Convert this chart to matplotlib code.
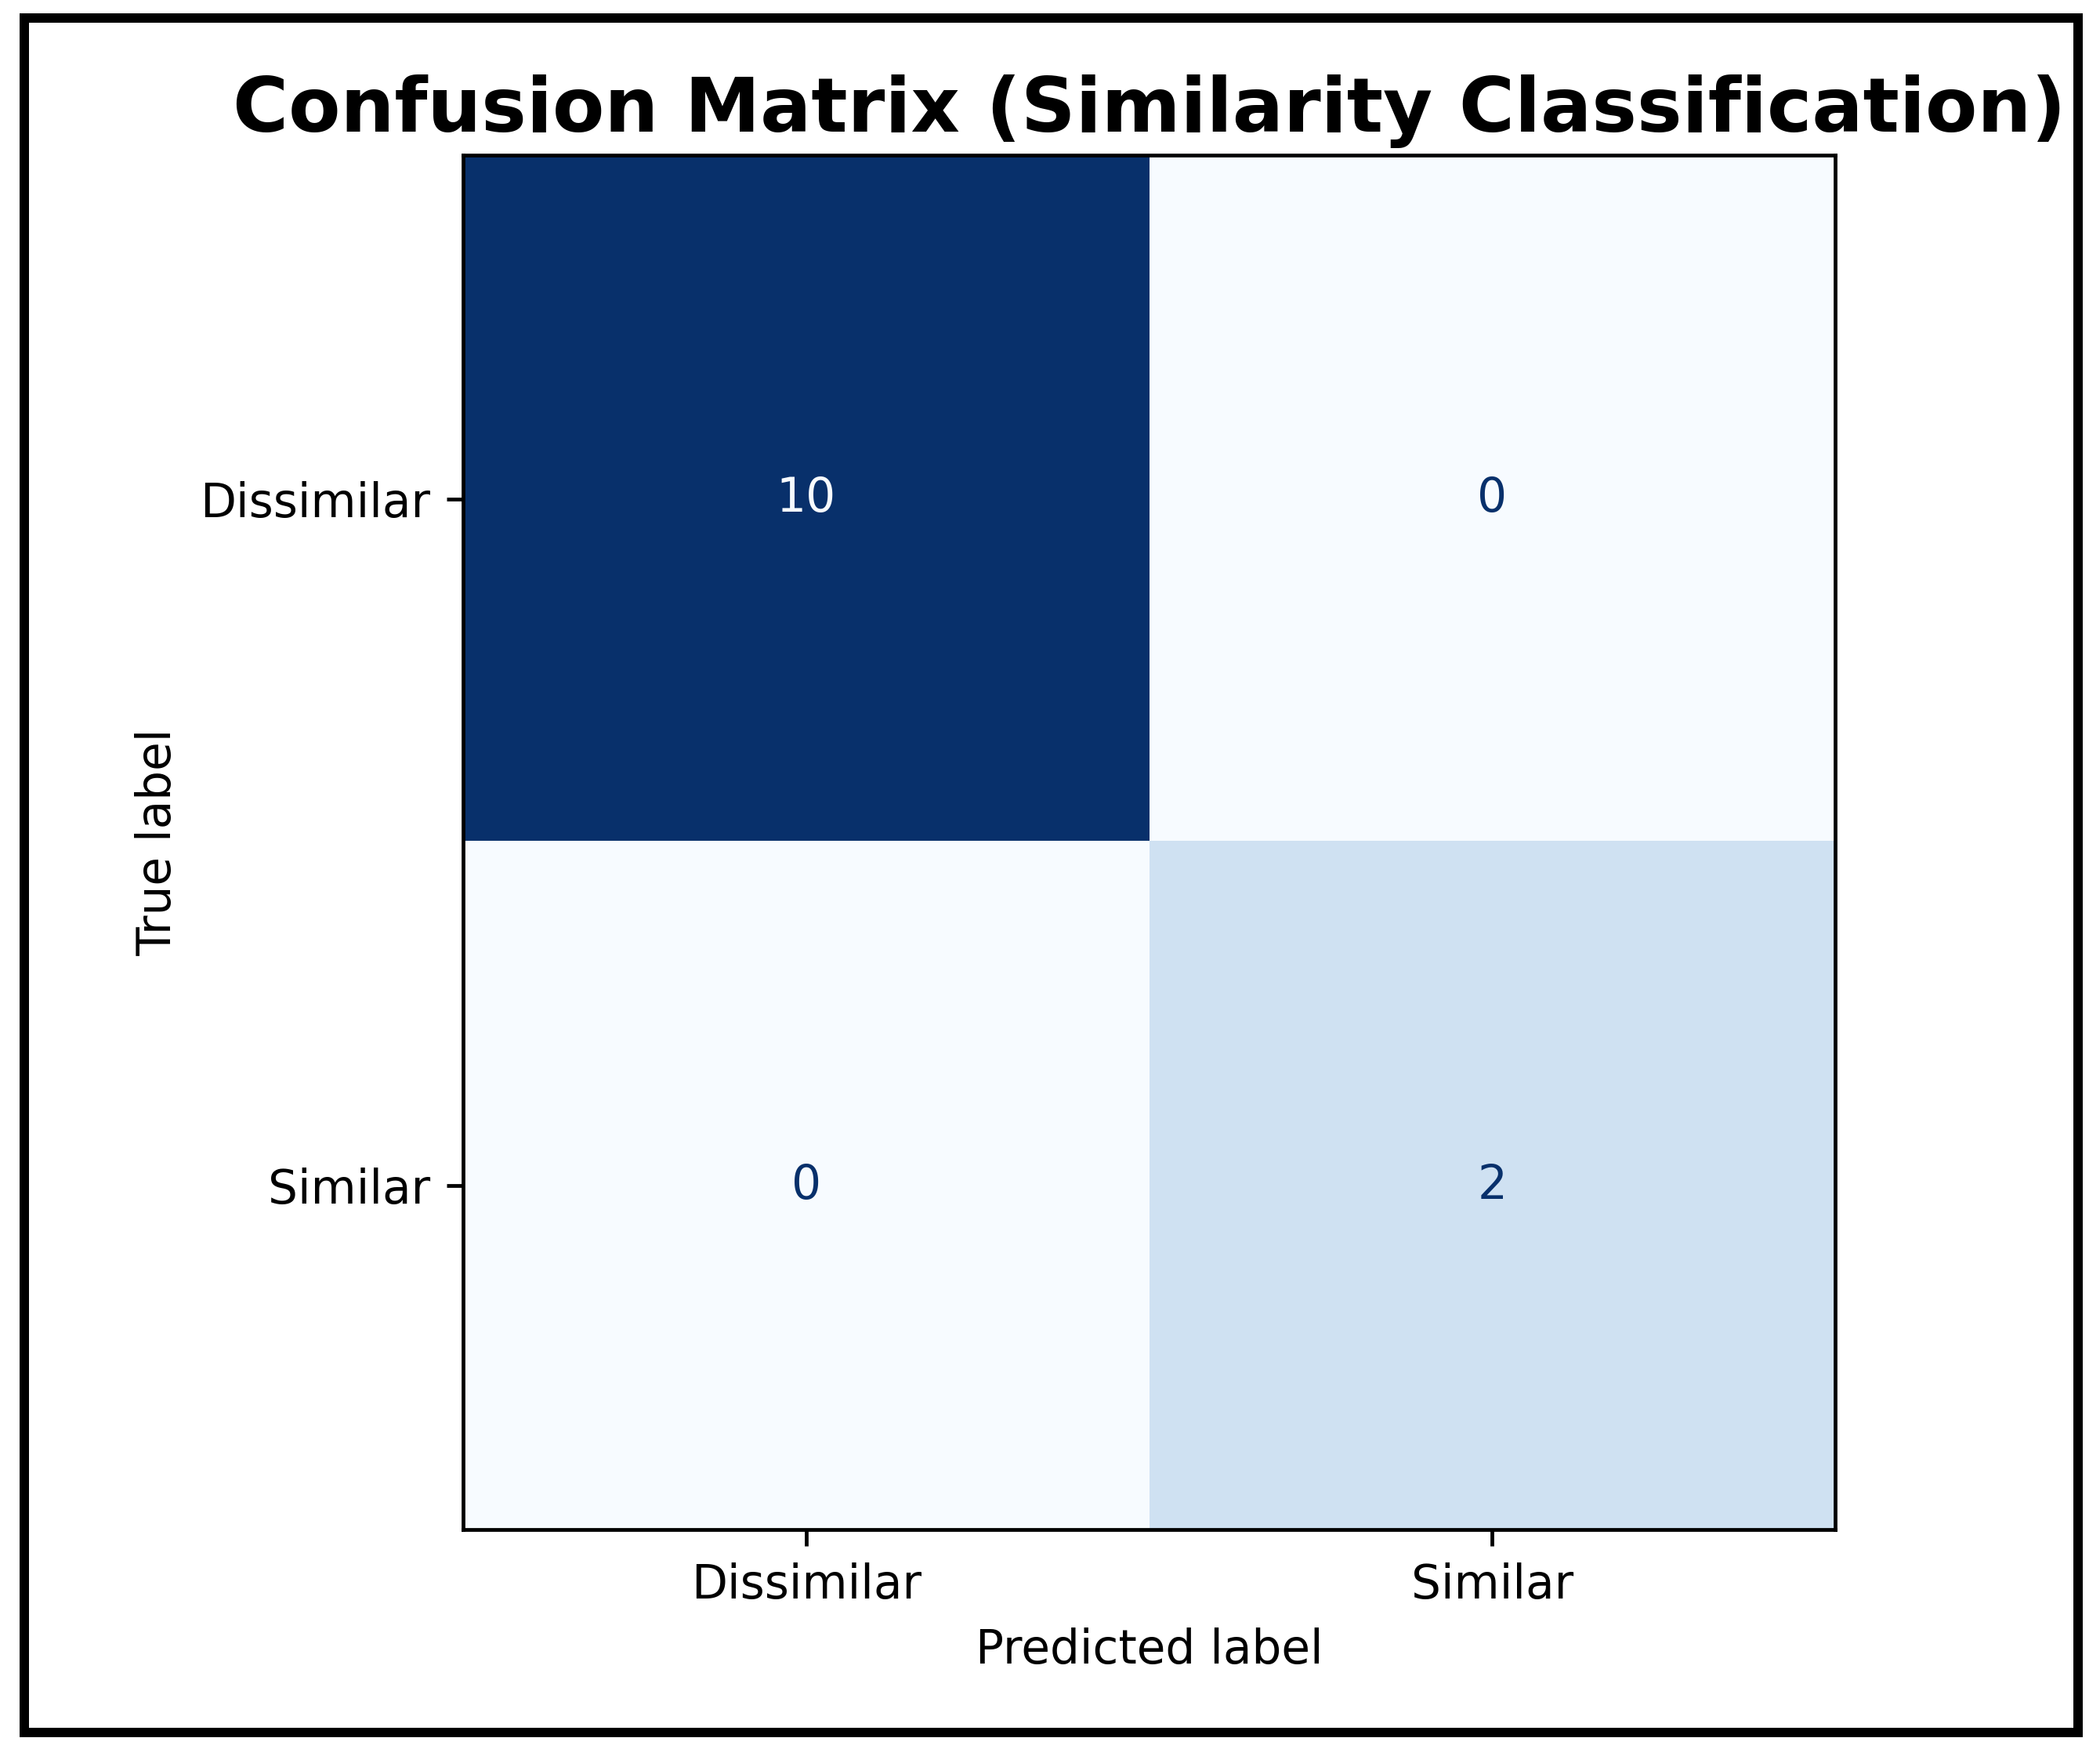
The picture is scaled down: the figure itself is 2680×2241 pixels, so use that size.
import matplotlib.pyplot as plt
import numpy as np
from matplotlib.patches import Rectangle

# confusion matrix data
labels = ['Dissimilar', 'Similar']
cm = np.array([[10, 0],
               [0, 2]])

S = 2.15  # scale for point sizes (picture was rendered big)

fig = plt.figure(figsize=(13.4, 11.205), dpi=200)
ax = fig.add_axes([0.2205, 0.1290, 0.6534, 0.7826])

cmap = plt.cm.Blues
ax.imshow(cm, cmap=cmap, interpolation='nearest', aspect='auto')

# text colour like sklearn ConfusionMatrixDisplay
thresh = (cm.max() + cm.min()) / 2.0
for i in range(cm.shape[0]):
    for j in range(cm.shape[1]):
        color = cmap(1.0) if cm[i, j] < thresh else cmap(0)
        ax.text(j, i, str(cm[i, j]), ha='center', va='center',
                color=color, fontsize=10 * S)

ax.set_xticks(range(len(labels)), labels)
ax.set_yticks(range(len(labels)), labels)
ax.tick_params(labelsize=10 * S, length=3.5 * S, width=0.8 * S, pad=3.5 * S)
for sp in ax.spines.values():
    sp.set_linewidth(0.8 * S)

ax.set_xlabel('Predicted label', fontsize=10 * S, labelpad=4 * S)
ax.set_ylabel('True label', fontsize=10 * S, labelpad=4 * S)
ax.set_title('Confusion Matrix (Similarity Classification)',
             fontsize=16.2 * S, fontweight='bold', pad=5 * S)

# thick black frame round the whole picture
W, H = 2680, 2241
x0, x1 = 31 / W, 2652 / W
y0, y1 = 1 - 2211 / H, 1 - 23 / H
fig.add_artist(Rectangle((x0, y0), x1 - x0, y1 - y0, transform=fig.transFigure,
                         fill=False, edgecolor='black', linewidth=12 * 72 / 200))

fig.savefig('out.png', dpi=200)
